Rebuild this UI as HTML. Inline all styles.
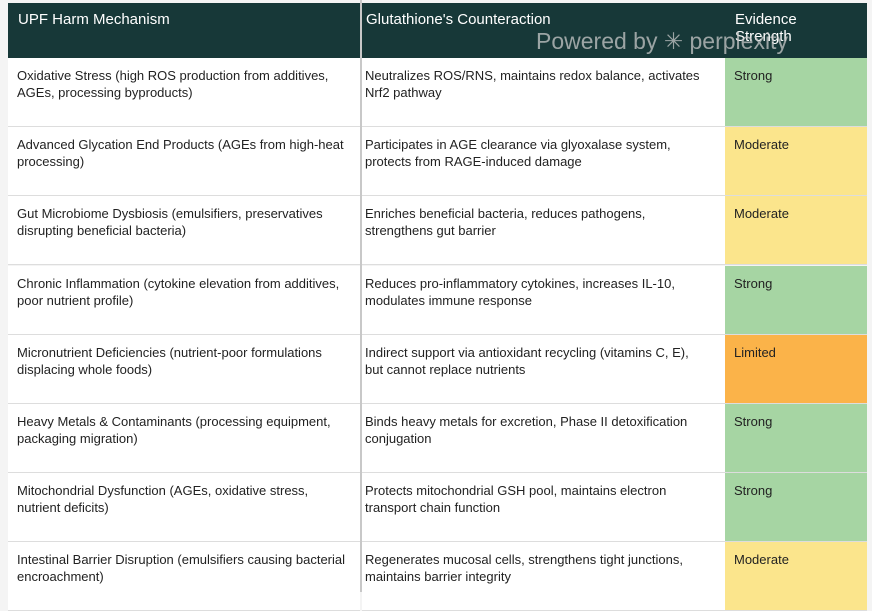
<!DOCTYPE html>
<html><head><meta charset="utf-8"><style>
body{margin:0;width:872px;height:592px;overflow:hidden;background:#f4f4f4;font-family:"Liberation Sans",sans-serif;position:relative}
.hd{position:absolute;top:3px;height:55px;background:#173838;color:#fff;font-size:15px;box-sizing:border-box;padding:8px 10px}
.c{position:absolute;height:69px;box-sizing:border-box;padding:9px 14px 0 9px;font-size:13px;line-height:17px;color:#222;border-bottom:1px solid #ddd;background:#fff}
.s{background:#a6d5a3}.m{background:#fbe58c}.l{background:#fbb349}
.vline{position:absolute;left:360px;top:0;width:2px;height:592px;background:#c8c8c8}
.wm{position:absolute;left:536px;top:28px;font-size:23px;color:rgba(200,200,200,.75)}
</style></head><body>
<div id="tbl"></div>
<div class="vline"></div>
<div class="wm">Powered by ✳ perplexity</div>
<script>
const headers=["UPF Harm Mechanism","Glutathione's Counteraction","Evidence Strength"];
const col1=["Oxidative Stress (high ROS production from additives, AGEs, processing byproducts)","Advanced Glycation End Products (AGEs from high-heat processing)","Gut Microbiome Dysbiosis (emulsifiers, preservatives disrupting beneficial bacteria)","Chronic Inflammation (cytokine elevation from additives, poor nutrient profile)","Micronutrient Deficiencies (nutrient-poor formulations displacing whole foods)","Heavy Metals & Contaminants (processing equipment, packaging migration)","Mitochondrial Dysfunction (AGEs, oxidative stress, nutrient deficits)","Intestinal Barrier Disruption (emulsifiers causing bacterial encroachment)"];
const col2=["Neutralizes ROS/RNS, maintains redox balance, activates Nrf2 pathway","Participates in AGE clearance via glyoxalase system, protects from RAGE-induced damage","Enriches beneficial bacteria, reduces pathogens, strengthens gut barrier","Reduces pro-inflammatory cytokines, increases IL-10, modulates immune response","Indirect support via antioxidant recycling (vitamins C, E), but cannot replace nutrients","Binds heavy metals for excretion, Phase II detoxification conjugation","Protects mitochondrial GSH pool, maintains electron transport chain function","Regenerates mucosal cells, strengthens tight junctions, maintains barrier integrity"];
const strength=["Strong","Moderate","Moderate","Strong","Limited","Strong","Strong","Moderate"];
const cls={Strong:"s",Moderate:"m",Limited:"l"};
const xs=[8,362,725],ws=[352,363,142],pl=[9,3,9],pr=[6,18,6];
const t=document.getElementById('tbl');
headers.forEach((h,i)=>{const d=document.createElement('div');d.className='hd';d.style.left=xs[i]+'px';d.style.width=ws[i]+'px';d.style.paddingLeft=(pl[i]+1)+'px';d.textContent=h;


t.appendChild(d);});
col1.forEach((r,j)=>{const y=58+j*69.2;[r,col2[j],strength[j]].forEach((v,i)=>{const d=document.createElement('div');d.className='c'+(i==2?' '+cls[v]:'');d.style.left=xs[i]+'px';d.style.width=ws[i]+'px';d.style.top=y+'px';d.style.paddingLeft=pl[i]+'px';d.style.paddingRight=pr[i]+'px';d.textContent=v;


t.appendChild(d);});});
</script>
</body></html>
